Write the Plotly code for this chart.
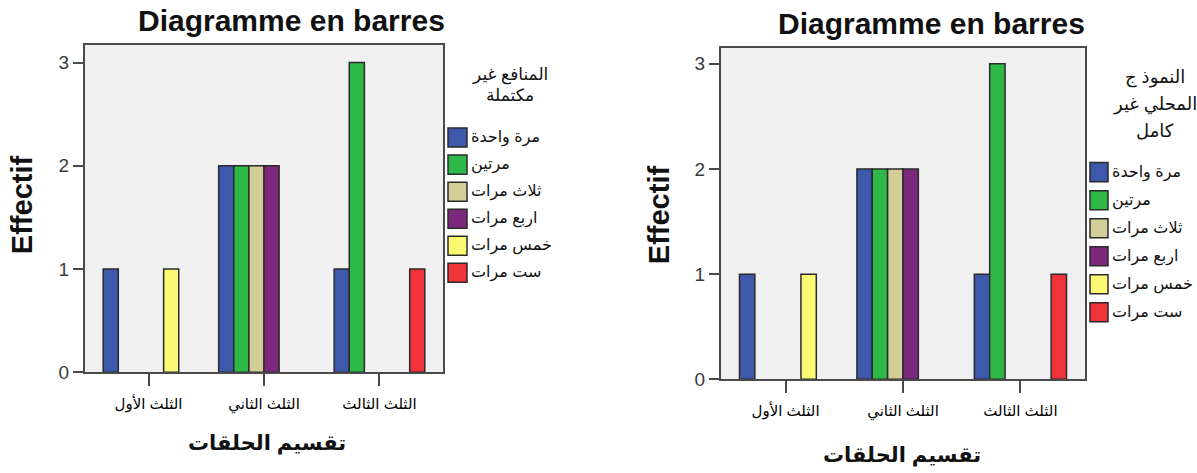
import plotly.graph_objects as go

# ---------------- data ----------------
categories = ["الثلث الأول", "الثلث الثاني", "الثلث الثالث"]
series_names = ["مرة واحدة", "مرتين", "ثلاث مرات", "اربع مرات", "خمس مرات", "ست مرات"]

left_once = [1, 2, 1]
left_twice = [0, 2, 3]
left_three = [0, 2, 0]
left_four = [0, 2, 0]
left_five = [1, 0, 0]
left_six = [0, 0, 1]

right_once = [1, 2, 1]
right_twice = [0, 2, 3]
right_three = [0, 2, 0]
right_four = [0, 2, 0]
right_five = [1, 0, 0]
right_six = [0, 0, 1]

y_ticks = [0, 1, 2, 3]

chart_title = "Diagramme en barres"
y_title = "Effectif"
x_title = "تقسيم الحلقات"
left_legend_title = ["المنافع غير", "مكتملة"]
right_legend_title = ["النموذ ج", "المحلي غير", "كامل"]

# ---------------- styles ----------------
colors = ["#3E58AC", "#2EB848", "#D3CE97", "#7C287D", "#FBF873", "#EF3338"]
FONT = "Arial, Liberation Sans, DejaVu Sans, sans-serif"
W, H = 1197, 473
SY = 0.976  # vertical correction observed in the rendered page


def px(x):
    return x / W


def py(y):
    return 1 - y / (H * SY)


left_values = [left_once, left_twice, left_three, left_four, left_five, left_six]
right_values = [right_once, right_twice, right_three, right_four, right_five, right_six]

fig = go.Figure()

for (xa, ya, values) in [("x", "y", left_values), ("x2", "y2", right_values)]:
    for name, vals, col in zip(series_names, values, colors):
        fig.add_trace(go.Bar(
            x=categories, y=vals, name=name, marker_color=col,
            marker_line=dict(color="#2a2a2a", width=[1.5 if v else 0 for v in vals]),
            xaxis=xa, yaxis=ya, showlegend=False))

axis_common = dict(showline=True, mirror=True, linecolor="#4a4a4a", linewidth=2,
                   ticks="outside", tickcolor="#4a4a4a", tickwidth=2,
                   showgrid=False, zeroline=False, fixedrange=True)

xcommon = dict(axis_common, type="category", range=[-0.55, 2.55], ticklen=12,
               tickfont=dict(family=FONT, size=15, color="#000"), ticklabelstandoff=5)
ycommon = dict(axis_common, range=[0, 3.17], tickvals=y_ticks, ticklen=10,
               tickfont=dict(family=FONT, size=19, color="#3a3a3a"))

fig.update_layout(
    width=W, height=H,
    margin=dict(l=0, r=0, t=0, b=0),
    paper_bgcolor="white",
    plot_bgcolor="#F0F0F0",
    barmode="group", bargap=0.215, bargroupgap=0,
    showlegend=False,
    xaxis=dict(xcommon, domain=[px(85), px(443)], anchor="y"),
    yaxis=dict(ycommon, domain=[py(372), py(45)], anchor="x"),
    xaxis2=dict(xcommon, domain=[px(721), px(1085)], anchor="y2"),
    yaxis2=dict(ycommon, range=[0, 3.15], domain=[py(379), py(48)], anchor="x2"),
    font=dict(family=FONT),
)

ann = []
shapes = []

# chart titles
for cx, cy in [(291, 20), (931, 23)]:
    ann.append(dict(text=chart_title, x=px(cx), y=py(cy), xref="paper", yref="paper",
                    xanchor="center", yanchor="middle", showarrow=False,
                    font=dict(family=FONT, size=30, color="#111", weight="bold")))

# y titles
for cx, cy in [(22, 205), (659, 215)]:
    ann.append(dict(text=y_title, x=px(cx), y=py(cy), xref="paper", yref="paper",
                    xanchor="center", yanchor="middle", showarrow=False, textangle=-90,
                    font=dict(family=FONT, size=29, color="#111", weight="bold")))

# x titles
for cx, cy in [(267, 443), (902, 455)]:
    ann.append(dict(text=x_title, x=px(cx), y=py(cy), xref="paper", yref="paper",
                    xanchor="center", yanchor="middle", showarrow=False,
                    font=dict(family=FONT, size=21, color="#111", weight="bold")))

# legend titles
for i, line in enumerate(left_legend_title):
    ann.append(dict(text=line, x=px(510), y=py(75 + 20 * i), xref="paper", yref="paper",
                    xanchor="center", yanchor="middle", showarrow=False,
                    font=dict(family=FONT, size=17, color="#111")))
for i, line in enumerate(right_legend_title):
    ann.append(dict(text=line, x=px(1155), y=py(77 + 27 * i), xref="paper", yref="paper",
                    xanchor="center", yanchor="middle", showarrow=False,
                    font=dict(family=FONT, size=18, color="#111")))

# legend entries
for (sx0, sx1, y0, step, half) in [(448, 467, 137.5, 27, 9.5), (1090, 1108, 172, 28, 9.5)]:
    for i, (name, col) in enumerate(zip(series_names, colors)):
        cy = y0 + step * i
        shapes.append(dict(type="rect", xref="paper", yref="paper",
                           x0=px(sx0), x1=px(sx1), y0=py(cy + half), y1=py(cy - half),
                           fillcolor=col, line=dict(color="#2a2a2a", width=1.5)))
        ann.append(dict(text=name, x=px(sx1 + 2), y=py(cy), xref="paper", yref="paper",
                        xanchor="left", yanchor="middle", showarrow=False,
                        font=dict(family=FONT, size=16, color="#111")))

fig.update_layout(annotations=ann, shapes=shapes)

fig.write_html(
    "out.html",
    config={"displayModeBar": False, "staticPlot": True},
    post_script=(
        "document.documentElement.style.margin='0';"
        "document.documentElement.style.overflow='hidden';"
        "document.body.style.margin='0';"
        "document.body.style.overflow='hidden';"
    ),
)
